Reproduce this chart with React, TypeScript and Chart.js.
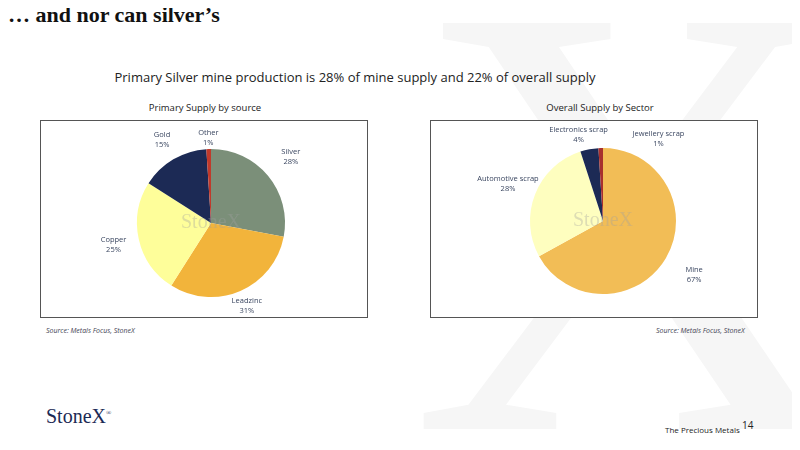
import React, { useEffect, useRef } from "react";
import { Chart, registerables } from "chart.js";
Chart.register(...registerables);

const primaryLabels = ["Silver", "Leadzinc", "Copper", "Gold", "Other"];
const primaryValues = [28, 31, 25, 15, 1];
const primaryColors = ["#7b8f79", "#f2b43b", "#fefe9a", "#1c2a55", "#c0392b"];

const overallLabels = ["Mine", "Automotive scrap", "Electronics scrap", "Jewellery scrap"];
const overallValues = [67, 28, 4, 1];
const overallColors = ["#f2bd56", "#fefebf", "#1c2a55", "#a8302e"];

const labelPlugin = {
  id: "outLabels",
  afterDraw(chart: any) {
    const ctx = chart.ctx;
    const meta = chart.getDatasetMeta(0);
    const ds = chart.data.datasets[0];
    const offs: number[][] = chart.options.plugins.outLabels.offsets;
    ctx.save();
    ctx.font = "7.5px 'Open Sans', sans-serif";
    ctx.fillStyle = "#3a4660";
    ctx.textAlign = "center";
    ctx.textBaseline = "middle";
    meta.data.forEach((arc: any, i: number) => {
      const mid = (arc.startAngle + arc.endAngle) / 2;
      const r = arc.outerRadius * offs[i][0];
      const x = arc.x + Math.cos(mid) * r + offs[i][1];
      const y = arc.y + Math.sin(mid) * r;
      ctx.fillText(String(chart.data.labels[i]), x, y - 5);
      ctx.fillText(ds.data[i] + "%", x, y + 5);
    });
    ctx.font = "20px 'Liberation Serif', serif";
    ctx.fillStyle = "rgba(160,160,160,0.35)";
    ctx.fillText("StoneX", meta.data[0].x, meta.data[0].y);
    ctx.restore();
  },
};

function Pie({ labels, values, colors, padding, offsets }: any) {
  const ref = useRef<HTMLCanvasElement>(null);
  useEffect(() => {
    const c = new Chart(ref.current!, {
      type: "pie",
      data: { labels, datasets: [{ data: values, backgroundColor: colors, borderWidth: 0 }] },
      options: {
        animation: false,
        responsive: false,
        layout: { padding },
        plugins: { legend: { display: false }, tooltip: { enabled: false }, outLabels: { offsets } } as any,
      },
      plugins: [labelPlugin],
    });
    return () => c.destroy();
  }, []);
  return <canvas ref={ref} width={326} height={196} style={{ width: 326, height: 196, display: "block" }} />;
}

export default function App() {
  const box: React.CSSProperties = { position: "absolute", border: "1px solid #555", width: 326, height: 196, background: "#fff" };
  const small: React.CSSProperties = { position: "absolute", fontFamily: "'Open Sans', sans-serif", fontSize: 7, fontStyle: "italic", color: "#445" };
  return (
    <div style={{ position: "relative", width: 800, height: 450, margin: -8, background: "#fff", overflow: "hidden", fontFamily: "'Open Sans', sans-serif" }}>
      <div style={{ position: "absolute", left: 410, top: -90, fontFamily: "'Liberation Serif', serif", fontSize: 620, color: "#f6f6f6", lineHeight: 1 }}>X</div>
      <div style={{ position: "absolute", left: 8, top: 2, fontFamily: "'Liberation Serif', serif", fontWeight: "bold", fontSize: 22, color: "#111" }}>… and nor can silver’s</div>
      <div style={{ position: "absolute", left: 0, width: 710, top: 68, textAlign: "center", fontSize: 13, color: "#222" }}>Primary Silver mine production is 28% of mine supply and 22% of overall supply</div>
      <div style={{ position: "absolute", left: 40, width: 330, top: 101, textAlign: "center", fontSize: 9.5, color: "#222" }}>Primary Supply by source</div>
      <div style={{ position: "absolute", left: 430, width: 340, top: 101, textAlign: "center", fontSize: 9.5, color: "#222" }}>Overall Supply by Sector</div>
      <div style={{ ...box, left: 40, top: 120 }}>
        <Pie labels={primaryLabels} values={primaryValues} colors={primaryColors} padding={{ top: 28, bottom: 20, left: 24, right: 10 }} offsets={[[1.4, 0], [1.22, 0], [1.35, 0], [1.3, 0], [1.15, 0]]} />
      </div>
      <div style={{ ...box, left: 430, top: 120 }}>
        <Pie labels={overallLabels} values={overallValues} colors={overallColors} padding={{ top: 27, bottom: 23, left: 24, right: 6 }} offsets={[[1.45, 0], [1.4, 0], [1.2, -8], [1.13, 58]]} />
      </div>
      <div style={{ ...small, left: 46, top: 326 }}>Source: Metals Focus, StoneX</div>
      <div style={{ ...small, left: 656, top: 326 }}>Source: Metals Focus, StoneX</div>
      <div style={{ position: "absolute", left: 46, top: 405, fontFamily: "'Liberation Serif', serif", fontSize: 20, color: "#1c2a55" }}>StoneX<sup style={{ fontSize: 7 }}>®</sup></div>
      <div style={{ position: "absolute", left: 665, top: 424, fontSize: 8, color: "#222" }}>The Precious Metals</div>
      <div style={{ position: "absolute", left: 742, top: 418, fontSize: 10, color: "#222" }}>14</div>
    </div>
  );
}
